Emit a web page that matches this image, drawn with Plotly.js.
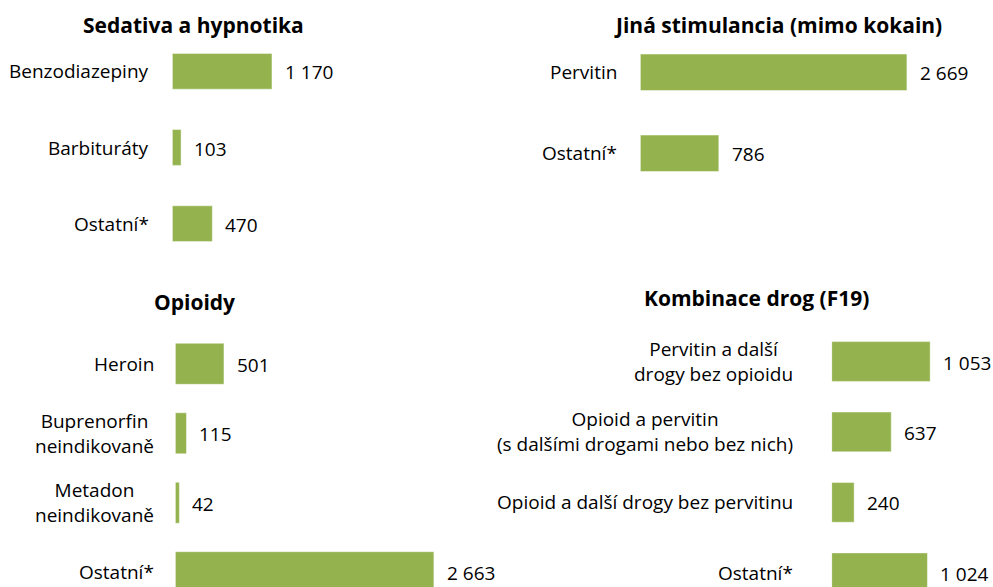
<!DOCTYPE html>
<html>
<head>
<meta charset="utf-8">
<script src="https://cdn.plot.ly/plotly-3.0.1.min.js"></script>
<style>html,body{margin:0;padding:0;background:#fff}#chart{width:993px;height:587px}</style>
</head>
<body>
<div id="chart"></div>
<script>
// ---- data ----
const titles = ["Sedativa a hypnotika", "Jiná stimulancia (mimo kokain)", "Opioidy", "Kombinace drog (F19)"];

const sedCategories = ["Benzodiazepiny", "Barbituráty", "Ostatní*"];
const sedValues = [1170, 103, 470];

const stimCategories = ["Pervitin", "Ostatní*"];
const stimValues = [2669, 786];

const opiCategories = ["Heroin", "Buprenorfin<br>neindikovaně", "Metadon<br>neindikovaně", "Ostatní*"];
const opiValues = [501, 115, 42, 2663];

const combCategories = ["Pervitin a další<br>drogy bez opioidu", "Opioid a pervitin<br>(s dalšími drogami nebo bez nich)", "Opioid a další drogy bez pervitinu", "Ostatní*"];
const combValues = [1053, 637, 240, 1024];

// ---- layout helpers ----
const W = 993, H = 587;
const FONT = "Open Sans, Noto Sans, sans-serif";
const FS = 19;
const TFS = 21;
const GREEN = "#94B34E";
const px = v => v / W;
const py = v => 1 - v / H;

const panels = [
  {cats: sedCategories, vals: sedValues, xd: [172.3, 342.7], xr: [0, 2000], yd: [261.8, 33.2], yr: [2.5, -0.5], w: 0.47, title: titles[0], tx: 193, ty: 25, gap: 21},
  {cats: stimCategories, vals: stimValues, xd: [640.3, 940.0], xr: [0, 3000], yd: [193.8, 31.8], yr: [1.5, -0.5], w: 0.45, title: titles[1], tx: 777.5, ty: 25, gap: 21},
  {cats: opiCategories, vals: opiValues, xd: [175.3, 466.6], xr: [0, 3000], yd: [587, 329.07], yr: [3.213, -0.5], w: 0.59, title: titles[2], tx: 194, ty: 302, gap: 19},
  {cats: combCategories, vals: combValues, xd: [831.7, 971.95], xr: [0, 1500], yd: [587, 326.3], yr: [3.202, -0.5], w: 0.565, title: titles[3], tx: 756, ty: 298, gap: 37}
];

const fmt = v => String(v).replace(/\B(?=(\d{3})+(?!\d))/g, " ");

const data = [];
const annotations = [];
const layout = {
  width: W, height: H,
  margin: {l: 0, r: 0, t: 0, b: 0},
  paper_bgcolor: "#fff", plot_bgcolor: "rgba(0,0,0,0)",
  showlegend: false,
  font: {family: FONT, size: FS, color: "#000"},
  annotations: annotations
};

panels.forEach((p, i) => {
  const n = i === 0 ? "" : String(i + 1);
  const xa = "x" + n, ya = "y" + n;
  const yIdx = p.cats.map((_, k) => k);
  data.push({
    type: "bar", orientation: "h",
    x: p.vals, y: yIdx,
    xaxis: xa, yaxis: ya,
    width: p.w,
    marker: {color: GREEN, line: {color: "rgba(255,255,255,0.45)", width: 1}},
    hoverinfo: "skip"
  });
  layout["xaxis" + n] = {domain: [px(p.xd[0]), px(p.xd[1])], range: p.xr, anchor: ya,
    showgrid: false, zeroline: false, showline: false, showticklabels: false, ticks: "", fixedrange: true};
  layout["yaxis" + n] = {domain: [py(p.yd[0]), py(p.yd[1])], range: p.yr, anchor: xa,
    showgrid: false, zeroline: false, showline: false, showticklabels: false, ticks: "", fixedrange: true};
  // title
  annotations.push({text: "<b>" + p.title + "</b>", xref: "paper", yref: "paper",
    x: px(p.tx), y: py(p.ty), xanchor: "center", yanchor: "middle", showarrow: false,
    font: {family: FONT, size: TFS, color: "#000"}});
  // category labels
  p.cats.forEach((c, k) => {
    annotations.push({text: c, xref: "paper", yref: ya, x: px(p.xd[0] - p.gap), y: k,
      xanchor: "right", yanchor: "middle", align: "center", showarrow: false,
      font: {family: FONT, size: FS, color: "#000"}});
  });
  // value labels
  p.vals.forEach((v, k) => {
    annotations.push({text: fmt(v), xref: xa, yref: ya, x: v, y: k, xshift: 11, yshift: -1,
      xanchor: "left", yanchor: "middle", showarrow: false,
      font: {family: FONT, size: FS, color: "#000"}});
  });
});

Plotly.newPlot("chart", data, layout, {displayModeBar: false, staticPlot: true});
</script>
</body>
</html>
